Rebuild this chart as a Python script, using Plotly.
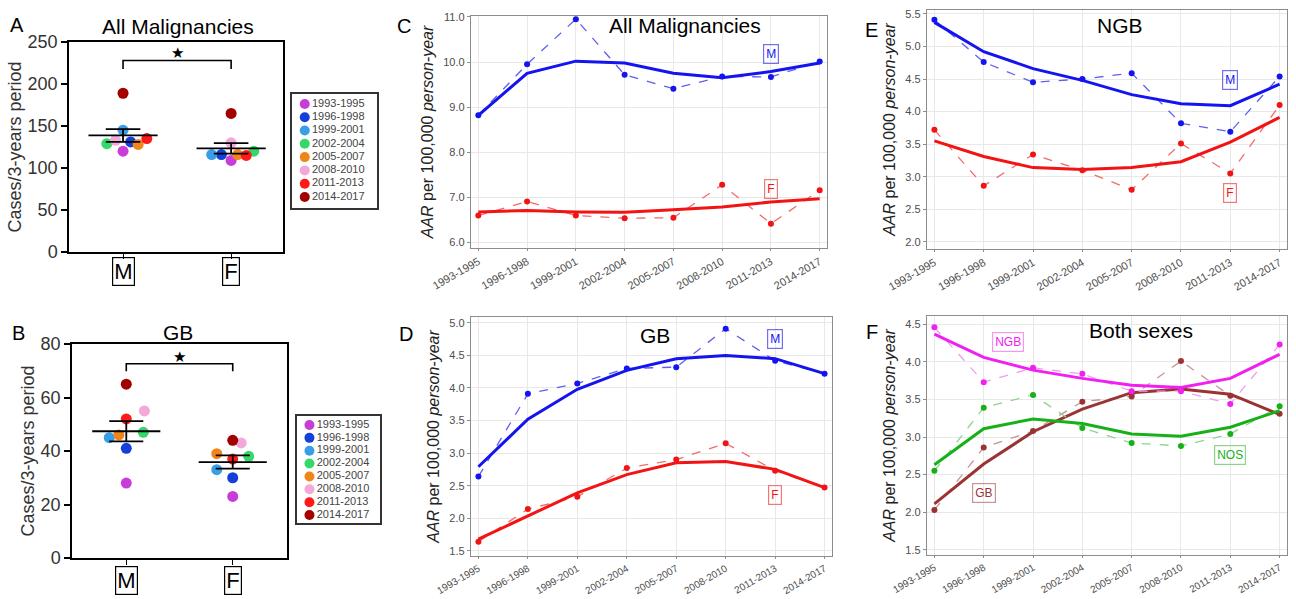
import numpy as np
import plotly.graph_objects as go

W, H = 1296, 599

# ---------------- data ----------------
periods = ["1993-1995", "1996-1998", "1999-2001", "2002-2004",
           "2005-2007", "2008-2010", "2011-2013", "2014-2017"]
period_colors = ["#C83CD8", "#1240D8", "#3A9EE6", "#36D86A",
                 "#F0861A", "#F2A8D8", "#FF1A1A", "#A30000"]
sexes = ["M", "F"]

# Panel A: cases per 3-year period, all malignancies
all_cases_M = [120, 131, 145, 129, 128, 133, 135, 189]
all_cases_F = [109, 116, 116, 120, 116, 130, 115, 165]
# Panel B: cases per 3-year period, GB
gb_cases_M = [28, 41, 45, 47, 46, 55, 52, 65]
gb_cases_F = [23, 30, 33, 38, 39, 43, 37, 44]

# horizontal spread of dots (layout only)
all_spread_M = [0, 0.07, 0, -0.15, 0.14, -0.07, 0.22, 0]
all_spread_F = [0, -0.09, -0.18, 0.21, 0.06, 0, 0.14, 0]
gb_spread_M = [0, 0, -0.16, 0.16, -0.07, 0.17, 0, 0]
gb_spread_F = [0, 0, -0.15, 0.15, -0.15, 0.08, 0, 0]

# Panel C: AAR all malignancies
c_M_obs = [8.82, 9.95, 10.95, 9.72, 9.41, 9.68, 9.67, 10.01]
c_M_fit = [8.82, 9.75, 10.02, 9.98, 9.75, 9.65, 9.79, 9.98]
c_F_obs = [6.60, 6.91, 6.60, 6.54, 6.55, 7.28, 6.42, 7.16]
c_F_fit = [6.68, 6.71, 6.68, 6.67, 6.73, 6.79, 6.90, 6.97]

# Panel D: AAR GB
d_M_obs = [2.64, 3.91, 4.07, 4.30, 4.32, 4.91, 4.42, 4.22]
d_M_fit = [2.79, 3.52, 3.98, 4.27, 4.45, 4.50, 4.45, 4.22]
d_F_obs = [1.64, 2.14, 2.33, 2.77, 2.90, 3.15, 2.73, 2.47]
d_F_fit = [1.68, 2.03, 2.39, 2.67, 2.85, 2.87, 2.75, 2.47]

# Panel E: AAR NGB
e_M_obs = [5.41, 4.76, 4.45, 4.50, 4.59, 3.82, 3.69, 4.54]
e_M_fit = [5.37, 4.92, 4.66, 4.48, 4.26, 4.12, 4.09, 4.42]
e_F_obs = [3.72, 2.86, 3.34, 3.10, 2.80, 3.51, 3.05, 4.10]
e_F_fit = [3.55, 3.31, 3.14, 3.11, 3.14, 3.23, 3.53, 3.91]

# Panel F: AAR both sexes
f_NGB_obs = [4.46, 3.73, 3.92, 3.84, 3.61, 3.61, 3.44, 4.23]
f_NGB_fit = [4.37, 4.06, 3.89, 3.78, 3.69, 3.66, 3.78, 4.10]
f_GB_obs = [2.03, 2.86, 3.08, 3.47, 3.54, 4.01, 3.55, 3.31]
f_GB_fit = [2.11, 2.64, 3.07, 3.37, 3.59, 3.64, 3.57, 3.30]
f_NOS_obs = [2.55, 3.39, 3.56, 3.12, 2.92, 2.88, 3.04, 3.41]
f_NOS_fit = [2.63, 3.11, 3.24, 3.18, 3.04, 3.01, 3.13, 3.35]

# ---------------- helpers ----------------
def px(x):
    return x / W

def py(y):
    return 1 - y / H

FONT = "Liberation Sans, Arial, sans-serif"
fig = go.Figure()
annotations = []
shapes = []

# ---------------- panels A & B (dot plots) ----------------
def dot_panel(ax, vals_M, vals_F, spread_M, spread_F):
    xa, ya = "x" + ax, "y" + ax
    for i, p in enumerate(periods):
        fig.add_trace(go.Scatter(
            x=[0 + spread_M[i], 1 + spread_F[i]], y=[vals_M[i], vals_F[i]],
            mode="markers", name=p, showlegend=False,
            marker=dict(size=11, color=period_colors[i]),
            xaxis=xa, yaxis=ya, hoverinfo="y"))
    xs, ys = [], []
    for k, vals in enumerate([vals_M, vals_F]):
        v = np.array(vals, dtype=float)
        m = v.mean()
        s = v.std(ddof=1) / np.sqrt(len(v))
        xs += [k - 0.32, k + 0.32, None, k - 0.16, k + 0.16, None,
               k - 0.16, k + 0.16, None, k, k, None]
        ys += [m, m, None, m + s, m + s, None, m - s, m - s, None,
               m - s, m + s, None]
    fig.add_trace(go.Scatter(x=xs, y=ys, mode="lines", showlegend=False,
                             line=dict(color="black", width=1.8),
                             xaxis=xa, yaxis=ya, hoverinfo="skip"))

dot_panel("", all_cases_M, all_cases_F, all_spread_M, all_spread_F)
dot_panel("2", gb_cases_M, gb_cases_F, gb_spread_M, gb_spread_F)

# significance brackets
def bracket(xa, ya, ytop, ylow, ystar):
    shapes.append(dict(type="path", xref=xa, yref=ya,
                       path=f"M 0,{ylow} L 0,{ytop} L 1,{ytop} L 1,{ylow}",
                       line=dict(color="black", width=1.6)))
    annotations.append(dict(x=0.5, y=ystar, xref=xa, yref=ya, text="★",
                            showarrow=False, font=dict(size=15, color="black")))

bracket("x", "y", 228, 218, 238)
bracket("x2", "y2", 72.6, 69.8, 75.2)

# boxed M / F labels
for ax, top in [("x", 257), ("x2", 566)]:
    for k, s in enumerate(sexes):
        annotations.append(dict(x=k, y=py(top), xref=ax, yref="paper",
                                yanchor="top", text=s, showarrow=False,
                                font=dict(size=22, color="black", family=FONT),
                                bordercolor="black", borderwidth=1.2,
                                borderpad=1))

dot_axis_x = dict(showline=True, mirror=True, linecolor="black", linewidth=1.5,
                  showgrid=False, zeroline=False, tickvals=[0, 1],
                  showticklabels=False, ticks="outside", ticklen=5,
                  tickcolor="black", automargin=False)
dot_axis_y = dict(showline=True, mirror=True, linecolor="black", linewidth=1.5,
                  showgrid=False, zeroline=False, ticks="outside", ticklen=6,
                  tickcolor="black", tickwidth=1.5, automargin=False,
                  tickfont=dict(size=18, color="#333", family=FONT),
                  title=dict(text="Cases/3-years period",
                             font=dict(size=18, color="#333", family=FONT),
                             standoff=1))

# ---------------- legends (manual) ----------------
def legend_panel(ax):
    xa, ya = "x" + ax, "y" + ax
    fig.add_trace(go.Scatter(
        x=[0.15] * len(periods), y=list(range(len(periods))),
        mode="markers+text", text=periods, textposition="middle right",
        textfont=dict(size=11, color="#444", family=FONT),
        marker=dict(size=10, color=period_colors), showlegend=False,
        xaxis=xa, yaxis=ya, hoverinfo="text"))

legend_panel("7")
legend_panel("8")

legend_axis_x = dict(range=[0, 1], showgrid=False, zeroline=False,
                     showticklabels=False, showline=True, mirror=True,
                     linecolor="#333", linewidth=2, ticks="", fixedrange=True,
                     automargin=False)

# ---------------- line panels ----------------
BLUE, BLUE_L, BLUE_B = "#1414F0", "#6060EE", "#7070EE"
RED, RED_L, RED_B = "#F21414", "#F26A6A", "#F07A7A"

def line_pair(ax, obs, fit, col, col_light):
    xa, ya = "x" + ax, "y" + ax
    fig.add_trace(go.Scatter(x=periods, y=obs, mode="lines+markers",
                             line=dict(color=col_light, width=1.3, dash="dash"),
                             marker=dict(size=6, color=col),
                             showlegend=False, xaxis=xa, yaxis=ya))
    fig.add_trace(go.Scatter(x=periods, y=fit, mode="lines",
                             line=dict(color=col, width=3),
                             showlegend=False, xaxis=xa, yaxis=ya))

line_pair("3", c_M_obs, c_M_fit, BLUE, BLUE_L)
line_pair("3", c_F_obs, c_F_fit, RED, RED_L)
line_pair("4", d_M_obs, d_M_fit, BLUE, BLUE_L)
line_pair("4", d_F_obs, d_F_fit, RED, RED_L)
line_pair("5", e_M_obs, e_M_fit, BLUE, BLUE_L)
line_pair("5", e_F_obs, e_F_fit, RED, RED_L)
MAG, MAG_L = "#F020F0", "#F29AF2"
BRN, BRN_L = "#9A3434", "#C99494"
GRN, GRN_L = "#18B018", "#8CD48C"
line_pair("6", f_GB_obs, f_GB_fit, BRN, BRN_L)
line_pair("6", f_NOS_obs, f_NOS_fit, GRN, GRN_L)
line_pair("6", f_NGB_obs, f_NGB_fit, MAG, MAG_L)

def boxlabel(ax, x, y, text, col, bcol):
    annotations.append(dict(x=x, y=y, xref="x" + ax, yref="y" + ax, text=text,
                            showarrow=False, font=dict(size=12, color=col, family=FONT),
                            bordercolor=bcol, borderwidth=1.2, borderpad=2))

boxlabel("3", 6, 10.18, "M", BLUE, BLUE_B)
boxlabel("3", 6, 7.19, "F", RED, RED_B)
boxlabel("4", 6, 4.75, "M", BLUE, BLUE_B)
boxlabel("4", 6, 2.36, "F", RED, RED_B)
boxlabel("5", 6, 4.49, "M", BLUE, BLUE_B)
boxlabel("5", 6, 2.75, "F", RED, RED_B)
boxlabel("6", 1.5, 4.27, "NGB", MAG, "#F29AF2")
boxlabel("6", 1.0, 2.25, "GB", BRN, "#C99494")
boxlabel("6", 6.0, 2.76, "NOS", GRN, "#8CD48C")

def line_axis_x(fs):
    return dict(type="category", range=[-0.15, 7.15], showline=True, mirror=True,
                linecolor="#8C8C8C", linewidth=1.3, showgrid=True,
                gridcolor="#E8E8E8", gridwidth=1, zeroline=False,
                ticks="outside", ticklen=2, tickcolor="#8C8C8C", tickangle=-30,
                automargin=False,
                tickfont=dict(size=fs, color="#4D4D4D", family=FONT))

def line_axis_y(rng, dt):
    return dict(range=rng, dtick=dt, tick0=0, tickformat=".1f", showline=True,
                mirror=True, linecolor="#8C8C8C", linewidth=1.3, showgrid=True,
                gridcolor="#E8E8E8", gridwidth=1, zeroline=False,
                ticks="outside", ticklen=3, tickcolor="#8C8C8C",
                automargin=False,
                tickfont=dict(size=11, color="#4D4D4D", family=FONT),
                title=dict(text="<i>AAR</i> per 100,000 <i>person-year</i>",
                           font=dict(size=16, color="#222", family=FONT),
                           standoff=5))

# ---------------- titles & letters ----------------
def text_at(x, y, s, size):
    annotations.append(dict(x=px(x), y=py(y), xref="paper", yref="paper", text=s,
                            showarrow=False, xanchor="center", yanchor="middle",
                            font=dict(size=size, color="black", family=FONT)))

text_at(178, 26, "All Malignancies", 21)
text_at(178, 332, "GB", 21)
text_at(685, 25, "All Malignancies", 21)
text_at(1120, 25, "NGB", 21)
text_at(655, 335, "GB", 21)
text_at(1141, 330, "Both sexes", 21)
for letter, x, y in [("A", 17, 25), ("B", 18, 333), ("C", 404, 26),
                     ("D", 406, 334), ("E", 871, 30), ("F", 872, 332)]:
    text_at(x, y, letter, 20)

# ---------------- layout ----------------
def dom_x(a, b):
    return [px(a), px(b)]

def dom_y(top, bottom):
    return [py(bottom), py(top)]

layout = dict(
    width=W, height=H, margin=dict(l=0, r=0, t=0, b=0, autoexpand=False),
    paper_bgcolor="white", plot_bgcolor="white", showlegend=False,
    font=dict(family=FONT),
    xaxis=dict(dot_axis_x, domain=dom_x(69, 283), range=[-0.5, 1.48], anchor="y"),
    yaxis=dict(dot_axis_y, domain=dom_y(42, 252), range=[0, 250], dtick=50, anchor="x"),
    xaxis2=dict(dot_axis_x, domain=dom_x(72, 287), range=[-0.51, 1.51], anchor="y2"),
    yaxis2=dict(dot_axis_y, domain=dom_y(344, 558), range=[0, 80], dtick=20, anchor="x2"),
    xaxis3=dict(line_axis_x(11), domain=dom_x(471, 827), anchor="y3"),
    yaxis3=dict(line_axis_y([5.88, 11.02], 1.0), domain=dom_y(16, 248), anchor="x3"),
    xaxis4=dict(line_axis_x(10), domain=dom_x(471, 832), anchor="y4"),
    yaxis4=dict(line_axis_y([1.42, 5.09], 0.5), domain=dom_y(317, 556), anchor="x4"),
    xaxis5=dict(line_axis_x(11), domain=dom_x(927, 1287), anchor="y5"),
    yaxis5=dict(line_axis_y([1.89, 5.56], 0.5), domain=dom_y(10, 249), anchor="x5"),
    xaxis6=dict(line_axis_x(10), domain=dom_x(927, 1287), anchor="y6"),
    yaxis6=dict(line_axis_y([1.43, 4.61], 0.5), domain=dom_y(316, 555), anchor="x6"),
    xaxis7=dict(legend_axis_x, domain=dom_x(292, 377), anchor="y7"),
    yaxis7=dict(legend_axis_x, domain=dom_y(94, 208), range=[7.83, -0.75], anchor="x7"),
    xaxis8=dict(legend_axis_x, domain=dom_x(297, 380), anchor="y8"),
    yaxis8=dict(legend_axis_x, domain=dom_y(416, 523), range=[7.62, -0.7], anchor="x8"),
    annotations=annotations, shapes=shapes,
)
fig.update_layout(**layout)
fig.write_html("out.html",
               config={"displayModeBar": False},
               post_script="document.body.style.margin='0';"
                           "document.body.style.overflow='hidden';")
